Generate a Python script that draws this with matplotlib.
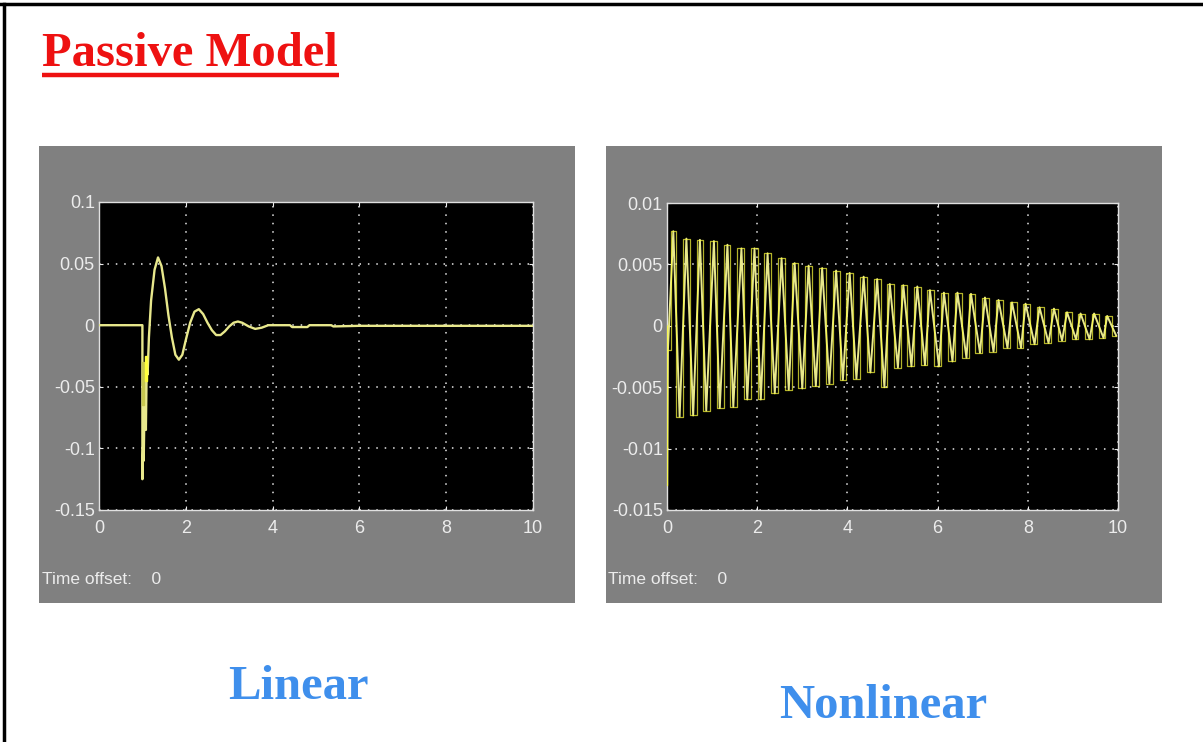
import matplotlib
matplotlib.use("Agg")
import matplotlib.pyplot as plt
from matplotlib.patches import Rectangle
from matplotlib.lines import Line2D
from matplotlib import font_manager

# ---------------- data ----------------
title_text = "Passive Model"
left_label = "Linear"
right_label = "Nonlinear"
offset_text = "Time offset:    0"

x_ticks = [0, 2, 4, 6, 8, 10]
lin_yticks = [-0.15, -0.1, -0.05, 0, 0.05, 0.1]
lin_yticklabels = ["-0.15", "-0.1", "-0.05", "0", "0.05", "0.1"]
non_yticks = [-0.015, -0.01, -0.005, 0, 0.005, 0.01]
non_yticklabels = ["-0.015", "-0.01", "-0.005", "0", "0.005", "0.01"]

# Linear model response
lin_t = [0, 1.0, 1.0, 1.02, 1.03, 1.05, 1.06, 1.08, 1.1, 1.12, 1.15, 1.2, 1.28,
         1.36, 1.44, 1.52, 1.6, 1.68, 1.76, 1.84, 1.92, 2.0, 2.1, 2.2, 2.3,
         2.4, 2.5, 2.6, 2.7, 2.8, 2.9, 3.0, 3.1, 3.2, 3.3, 3.45, 3.6, 3.75,
         3.9, 4.4, 4.45, 4.8, 4.85, 5.35, 5.4, 6.0, 7.0, 8.0, 9.0, 10.0]
lin_y = [0, 0, -0.125, -0.095, -0.11, -0.06, -0.045, -0.085, -0.03, -0.04,
         -0.01, 0.02, 0.045, 0.055, 0.048, 0.03, 0.008, -0.01, -0.024, -0.028,
         -0.024, -0.012, 0.002, 0.011, 0.013, 0.009, 0.002, -0.004, -0.008,
         -0.008, -0.005, -0.001, 0.002, 0.003, 0.002, -0.001, -0.003, -0.002,
         0.0, 0.0, -0.0015, -0.0015, 0.0, 0.0, -0.001, -0.0005, -0.0005,
         -0.0005, -0.0005, -0.0005]
# bright segments near the spike
lin_band_t = [1.0, 1.0, 1.04, 1.04]
lin_band_y = [-0.03, -0.065, -0.065, -0.03]
lin_spike_t = [1.07, 1.07, 1.1, 1.1]
lin_spike_y = [-0.025, -0.045, -0.045, -0.025]

# Nonlinear model: alternating extrema (peak, trough, ...)
non_peak_t = [0.14, 0.43, 0.73, 1.04, 1.34, 1.65, 1.94, 2.23, 2.54, 2.83,
              3.14, 3.44, 3.75, 4.05, 4.36, 4.66, 4.94, 5.24, 5.55, 5.83,
              6.14, 6.44, 6.74, 7.05, 7.35, 7.65, 7.95, 8.26, 8.58, 8.87,
              9.17, 9.47, 9.76]
non_peak_y = [0.0077, 0.0071, 0.0070, 0.0069, 0.0066, 0.0063, 0.0063, 0.0059,
              0.0055, 0.0051, 0.0049, 0.0047, 0.0045, 0.0043, 0.0040, 0.0038,
              0.0034, 0.0033, 0.0032, 0.0029, 0.0027, 0.0027, 0.0026, 0.0023,
              0.0021, 0.0019, 0.0018, 0.0015, 0.0014, 0.0011, 0.0010, 0.0010,
              0.0008]
non_trough_t = [0.28, 0.58, 0.87, 1.17, 1.47, 1.78, 2.08, 2.39, 2.70, 3.00,
                3.30, 3.60, 3.90, 4.20, 4.51, 4.82, 5.12, 5.42, 5.72, 6.03,
                6.33, 6.64, 6.94, 7.24, 7.55, 7.85, 8.15, 8.46, 8.76, 9.07,
                9.37, 9.68, 9.96]
non_trough_y = [-0.0074, -0.0073, -0.0069, -0.0067, -0.0066, -0.0060, -0.0060,
                -0.0055, -0.0052, -0.0051, -0.0049, -0.0047, -0.0044, -0.0043,
                -0.0038, -0.0050, -0.0034, -0.0033, -0.0032, -0.0033, -0.0029,
                -0.0026, -0.0022, -0.0021, -0.0018, -0.0018, -0.0015, -0.0014,
                -0.0012, -0.0011, -0.0011, -0.0010, -0.0008]
non_start_t = [0.0, 0.0, 0.02]
non_start_y = [0.0, -0.013, -0.002]

# ---------------- fonts ----------------
avail = {f.name for f in font_manager.fontManager.ttflist}
narrow = "Liberation Sans Narrow" if "Liberation Sans Narrow" in avail else "Liberation Sans"
serif = "Liberation Serif"

W, H = 1203, 742
fig = plt.figure(figsize=(W / 100, H / 100), dpi=100)
fig.patch.set_facecolor("white")

def fx(px):
    return px / W

def fy(py):
    return 1 - py / H

# page border (top and left)
fig.add_artist(Line2D([fx(0), fx(W)], [fy(4), fy(4)], color="black", lw=2.5))
fig.add_artist(Line2D([fx(4), fx(4)], [fy(4), fy(H)], color="black", lw=2.5))

# gray scope panels
for (x0, y0, x1, y1) in [(39, 146, 575, 603), (606, 146, 1162, 603)]:
    fig.add_artist(Rectangle((fx(x0), fy(y1)), fx(x1 - x0), (y1 - y0) / H,
                             facecolor="#808080", edgecolor="none", zorder=0))

line_col = "#e8e88c"
bright_col = "#ffff3c"
tick_col = "#ececec"

def style_axes(ax, yticks, yticklabels, ylim):
    ax.set_facecolor("black")
    ax.set_xlim(0, 10)
    ax.set_ylim(*ylim)
    ax.set_xticks(x_ticks)
    ax.set_xticklabels([str(v) for v in x_ticks])
    ax.set_yticks(yticks)
    ax.set_yticklabels(yticklabels)
    for s in ax.spines.values():
        s.set_color("#e0e0e0")
        s.set_linewidth(1.0)
    ax.tick_params(direction="in", colors=tick_col, length=3, width=0.8,
                   labelsize=13, top=True, right=True)
    ax.tick_params(axis="x", pad=7)
    ax.tick_params(axis="y", pad=3)
    for lab in ax.get_xticklabels() + ax.get_yticklabels():
        lab.set_family(narrow)
        lab.set_color(tick_col)
    ax.grid(True, color="#e8e8e8", linestyle=(0, (1, 4.5)), linewidth=1.1)
    ax.set_axisbelow(True)

# left axes (Linear)
axL = fig.add_axes([fx(99), fy(510), fx(434), 308 / H])
style_axes(axL, lin_yticks, lin_yticklabels, (-0.15, 0.1))
axL.plot(lin_t, lin_y, color=line_col, lw=1.7, zorder=3)
axL.fill(lin_band_t, lin_band_y, color="#c8c850", zorder=4)
axL.fill(lin_spike_t, lin_spike_y, color=bright_col, zorder=4)

# right axes (Nonlinear)
axR = fig.add_axes([fx(667), fy(510), fx(451), 307 / H])
style_axes(axR, non_yticks, non_yticklabels, (-0.015, 0.01))
nt = list(non_start_t)
ny = list(non_start_y)
for tp, yp, tt, yt in zip(non_peak_t, non_peak_y, non_trough_t, non_trough_y):
    nt += [tp, tt]
    ny += [yp, yt]
axR.plot(nt, ny, color=line_col, lw=1.4, zorder=3)
axR.plot(nt, ny, color=bright_col, lw=0.9, alpha=0.7, drawstyle="steps-mid", zorder=4)

# time offset labels
fig.text(fx(42), fy(580), offset_text, family=narrow, fontsize=12.5,
         color=tick_col, va="center", ha="left")
fig.text(fx(608), fy(580), offset_text, family=narrow, fontsize=12.5,
         color=tick_col, va="center", ha="left")

# title with underline
fig.text(fx(42), fy(66), title_text, family=serif, weight="bold",
         fontsize=35, color="#ee1111", ha="left", va="baseline")
fig.add_artist(Line2D([fx(42), fx(339)], [fy(75), fy(75)], color="#ee1111",
                      lw=3.2, solid_capstyle="butt"))

# bottom labels
fig.text(fx(298), fy(699), left_label, family=serif, weight="bold",
         fontsize=35, color="#3f8fec", ha="center", va="baseline")
fig.text(fx(883), fy(718), right_label, family=serif, weight="bold",
         fontsize=35, color="#3f8fec", ha="center", va="baseline")

fig.savefig("out.png", dpi=100, facecolor="white")
